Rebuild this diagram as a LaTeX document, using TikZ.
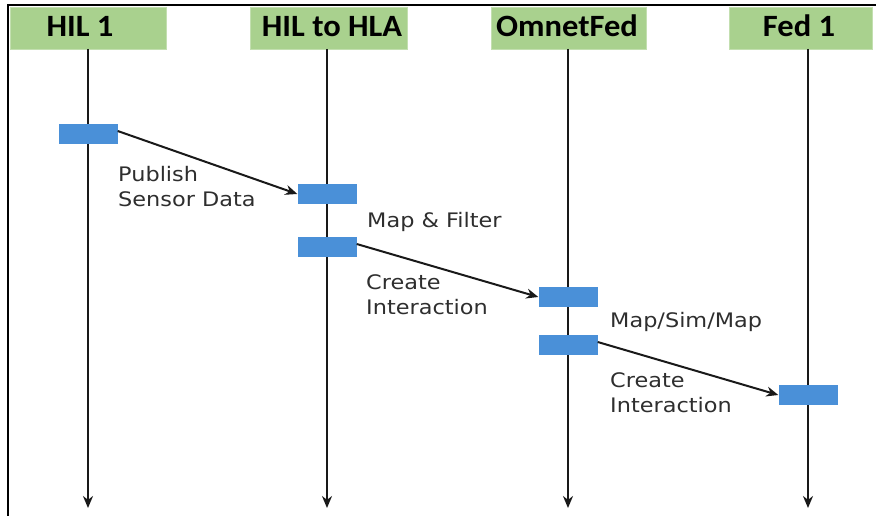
\documentclass[tikz,border=0pt]{standalone}
\usepackage{fontspec}
\setmainfont{DejaVu Sans}[FakeStretch=1.12]
\newfontfamily\headfont{Carlito}[FakeStretch=1.05]
\usetikzlibrary{arrows.meta}
\definecolor{headgreen}{HTML}{A9D18E}
\definecolor{barblue}{HTML}{4A90D8}
\definecolor{labelgrey}{HTML}{2E2E2E}
\tikzset{
  headbox/.style={fill=headgreen, draw=headgreen!70!white, line width=0.8pt},
  headtext/.style={font=\headfont\bfseries\fontsize{31}{31}\selectfont, text=black, inner sep=0pt, anchor=base},
  lifeline/.style={line width=2.4pt, draw=black!90, -{Stealth[length=12pt,width=10pt]}},
  actbar/.style={fill=barblue, draw=none, minimum width=59pt, minimum height=20pt, inner sep=0pt},
  msg/.style={line width=2pt, draw=black!90, -{Stealth[length=12pt,width=10pt]}},
  lbl/.style={font=\fontsize{20}{25}\selectfont, text=labelgrey, anchor=base west, inner sep=0pt},
  frameline/.style={line width=2.2pt}
}
\begin{document}
\begin{tikzpicture}[x=1pt,y=-1pt]
\useasboundingbox (0,0) rectangle (876,516);
% outer frame (top and left edges)
\draw[frameline] (8,516) -- (8,5) -- (876,5);
% header boxes
\fill[headbox] (10,7) rectangle (166,49);
\fill[headbox] (250,7) rectangle (407,49);
\fill[headbox] (491,7) rectangle (646,49);
\fill[headbox] (729,7) rectangle (872,49);
\node[headtext] (h1) at (80,37) {HIL 1};
\node[headtext] (h2) at (332,37) {HIL to HLA};
\node[headtext] (h3) at (567,37) {OmnetFed};
\node[headtext] (h4) at (799,37) {Fed 1};
% lifelines
\coordinate (t1) at (88,49);  \coordinate (e1) at (88,508);
\coordinate (t2) at (327,49); \coordinate (e2) at (327,508);
\coordinate (t3) at (568,49); \coordinate (e3) at (568,508);
\coordinate (t4) at (808,49); \coordinate (e4) at (808,508);
\draw[lifeline] (t1) -- (e1);
\draw[lifeline] (t2) -- (e2);
\draw[lifeline] (t3) -- (e3);
\draw[lifeline] (t4) -- (e4);
% activation bars
\node[actbar] (b1) at (88,134) {};
\node[actbar] (b2) at (327,194) {};
\node[actbar] (b3) at (327,247) {};
\node[actbar] (b4) at (568,297) {};
\node[actbar] (b5) at (568,345) {};
\node[actbar] (b6) at (808,395) {};
% messages
\draw[msg] (b1.east) ++(0,-3) coordinate (m1) (m1) -- (b2.west);
\draw[msg] (b3.east) ++(0,-3) coordinate (m2) (m2) -- (b4.west);
\draw[msg] (b5.east) ++(0,-3) coordinate (m3) (m3) -- (b6.west);
% labels
\node[lbl] (l1a) at (118,182) {Publish};
\node[lbl] (l1b) at (118,207) {Sensor Data};
\node[lbl] (l2)  at (367,227) {Map \& Filter};
\node[lbl] (l3a) at (366,289) {Create};
\node[lbl] (l3b) at (366,314) {Interaction};
\node[lbl] (l4)  at (610,327) {Map/Sim/Map};
\node[lbl] (l5a) at (610,387) {Create};
\node[lbl] (l5b) at (610,412) {Interaction};
\end{tikzpicture}
\end{document}
